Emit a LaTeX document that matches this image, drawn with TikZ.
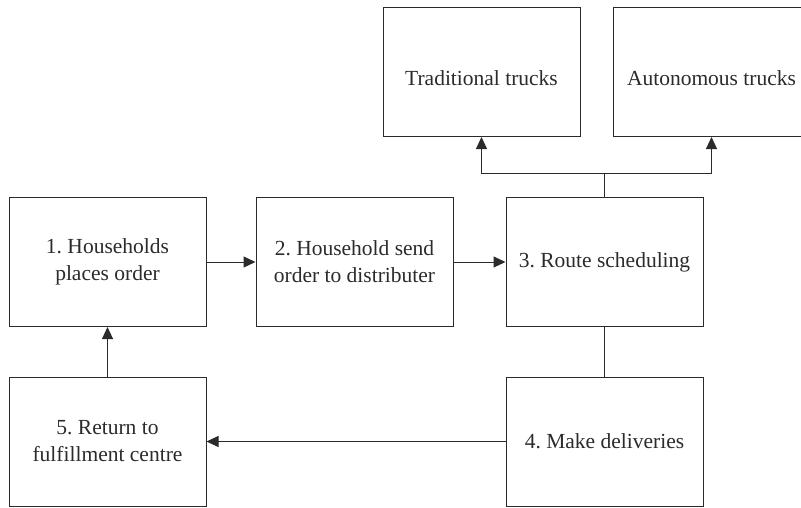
\documentclass[tikz,border=0pt]{standalone}
\usepackage{fontspec}
\setmainfont{Liberation Serif}
\usetikzlibrary{arrows.meta}
\definecolor{ink}{HTML}{2B2B2B}
\frenchspacing
\begin{document}
\begin{tikzpicture}[x=1pt,y=-1pt,
  stepbox/.style={draw=ink, line width=1pt, minimum width=197pt, minimum height=129pt,
    align=center, inner sep=0pt, text=ink, font=\fontsize{21.5}{27}\selectfont},
  truckbox/.style={stepbox, text height=31pt, text depth=5pt},
  link/.style={draw=ink, line width=1pt},
  arr/.style={link, -{Triangle[length=12pt,width=11pt]}}]
\useasboundingbox (0,0) rectangle (801,507);

% process steps
\node[stepbox] (n1) at (107.5,262) {1. Households\\places order};
\node[stepbox] (n2) at (354.5,262) {2. Household send\\order to distributer};
\node[stepbox] (n3) at (604.5,262) {3. Route scheduling};
\node[stepbox] (n4) at (604.5,441.5) {4. Make deliveries};
\node[stepbox] (n5) at (107.5,441.5) {5. Return to\\fulfillment centre};

% vehicle types
\node[truckbox] (tt) at (481.5,72) {Traditional trucks};
\node[truckbox] (at) at (711.5,72) {Autonomous trucks};

% flow
\draw[arr] (n1) -- (n2);
\draw[arr] (n2) -- (n3);
\coordinate (fork) at (604.5,173);
\draw[arr] (n3.north) -- (fork) -| (tt.south);
\draw[arr] (fork) -| (at.south);
\draw[link] (n3) -- (n4);
\draw[arr] (n4) -- (n5);
\draw[arr] (n5) -- (n1);
\end{tikzpicture}
\end{document}
